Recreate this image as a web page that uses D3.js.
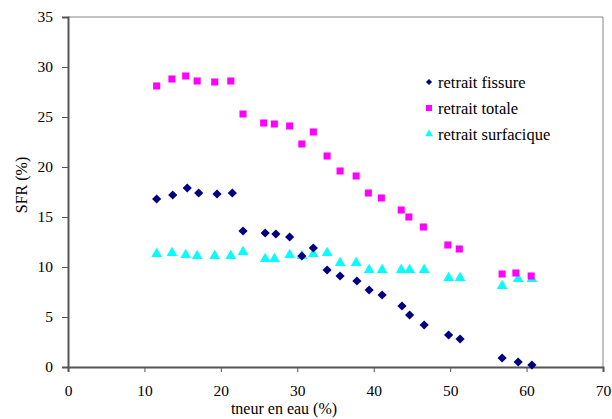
<!DOCTYPE html>
<html><head><meta charset="utf-8">
<script src="https://cdn.jsdelivr.net/npm/d3@7"></script>
<style>body{margin:0;background:#fff}svg{display:block}</style>
</head><body>
<svg id="c" width="612" height="419"></svg>
<script>
const xTicks = [0,10,20,30,40,50,60,70];
const yTicks = [0,5,10,15,20,25,30,35];
const seriesNames = ["retrait fissure","retrait totale","retrait surfacique"];
const xFissure = [11.6,13.7,15.6,17.1,19.5,21.5,22.9,25.8,27.2,29.0,30.6,32.1,33.9,35.6,37.8,39.4,41.1,43.7,44.7,46.6,49.8,51.3,56.8,58.9,60.7];
const yFissure = [16.8,17.2,17.9,17.4,17.3,17.4,13.6,13.4,13.3,13.0,11.1,11.9,9.7,9.1,8.6,7.7,7.2,6.1,5.2,4.2,3.2,2.8,0.9,0.5,0.2];
const xTotale = [11.6,13.6,15.4,16.9,19.2,21.3,22.9,25.6,27.0,29.0,30.6,32.1,33.9,35.6,37.7,39.3,41.0,43.6,44.6,46.5,49.7,51.2,56.8,58.6,60.6];
const yTotale = [28.1,28.8,29.1,28.6,28.5,28.6,25.3,24.4,24.3,24.1,22.3,23.5,21.1,19.6,19.1,17.4,16.9,15.7,15.0,14.0,12.2,11.8,9.3,9.4,9.1];
const xSurf = [11.6,13.6,15.4,16.9,19.2,21.3,22.9,25.8,27.0,29.0,30.6,32.1,33.9,35.6,37.7,39.4,41.1,43.6,44.7,46.6,49.8,51.3,56.8,58.9,60.7];
const ySurf = [11.3,11.4,11.2,11.1,11.1,11.1,11.5,10.8,10.8,11.2,11.1,11.3,11.4,10.4,10.4,9.7,9.7,9.7,9.7,9.7,8.9,8.9,8.1,8.8,8.8];

const FONT = "Liberation Serif";
const svg = d3.select("#c");
const L=68,R=603,T=17,B=367;
const x = d3.scaleLinear().domain([0,70]).range([L,R]);
const y = d3.scaleLinear().domain([0,35]).range([B,T]);

svg.append("line").attr("x1",L).attr("x2",R).attr("y1",T).attr("y2",T).attr("stroke","#888").attr("stroke-width",1);
svg.append("line").attr("x1",R).attr("x2",R).attr("y1",T).attr("y2",B).attr("stroke","#888").attr("stroke-width",1);

const xa = svg.append("g").attr("transform",`translate(0,${B})`)
  .call(d3.axisBottom(x).tickValues(xTicks).tickSize(5).tickPadding(13).tickFormat(d3.format("d")));
const ya = svg.append("g").attr("transform",`translate(${L},0)`)
  .call(d3.axisLeft(y).tickValues(yTicks).tickSize(6).tickPadding(9).tickFormat(d3.format("d")));
[xa,ya].forEach(a=>{
  a.selectAll("path").attr("stroke","#555").attr("stroke-width",2);
  a.selectAll("line").attr("stroke","#555");
  a.selectAll("text").style("font-family",FONT).style("font-size","15.5px").attr("fill","#000");
});

svg.append("text").attr("x",284).attr("y",414).attr("text-anchor","middle")
  .style("font-family",FONT).style("font-size","16px").text("tneur en eau (%)");
svg.append("text").attr("transform","translate(27,185) rotate(-90)").attr("text-anchor","middle")
  .style("font-family",FONT).style("font-size","16px").text("SFR (%)");

const colors = ["#000080","#FF00FF","#00FFFF"];
const shapes = [d3.symbolDiamond2, d3.symbolSquare, d3.symbolTriangle];
const sizes = [54, 50, 50];
const legSizes = [24, 36, 26];
const data = [
  xFissure.map((v,i)=>[v,yFissure[i]]),
  xTotale.map((v,i)=>[v,yTotale[i]]),
  xSurf.map((v,i)=>[v,ySurf[i]])
];
[2,1,0].forEach(s=>{
  svg.append("g").selectAll("path").data(data[s]).join("path")
    .attr("d", d3.symbol().type(shapes[s]).size(sizes[s]))
    .attr("transform", d=>`translate(${x(d[0])},${y(d[1])})`)
    .attr("fill", colors[s]);
});

const ly = [82,108,134];
seriesNames.forEach((n,i)=>{
  svg.append("path").attr("d", d3.symbol().type(shapes[i]).size(legSizes[i])())
    .attr("transform",`translate(429,${ly[i]})`).attr("fill",colors[i]);
  svg.append("text").attr("x",438).attr("y",ly[i]+5.5)
    .style("font-family",FONT).style("font-size","16.5px").text(n);
});
</script>
</body></html>
